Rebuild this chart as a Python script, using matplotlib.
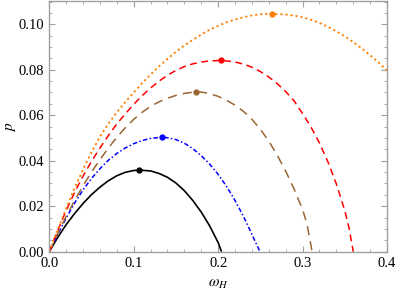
import matplotlib
matplotlib.use("Agg")
import matplotlib.pyplot as plt
from matplotlib.ticker import MultipleLocator

plt.rcParams["font.family"] = "Liberation Serif"
plt.rcParams["mathtext.fontset"] = "stix"

# values (omega_H, p)
black_w = [0, 0.01, 0.02, 0.03, 0.04, 0.05, 0.06, 0.07, 0.08, 0.09, 0.10, 0.1065,
           0.12, 0.13, 0.14, 0.15, 0.16, 0.17, 0.18, 0.19, 0.20, 0.204]
black_p = [0, 0.0063, 0.0119, 0.0168, 0.0212, 0.0251, 0.0284, 0.0312, 0.0334, 0.0349, 0.0357, 0.0359,
           0.0355, 0.0344, 0.0327, 0.0302, 0.0268, 0.0225, 0.0174, 0.0113, 0.0040, 0.0]

blue_w = [0, 0.01, 0.02, 0.03, 0.04, 0.05, 0.06, 0.07, 0.08, 0.09, 0.10, 0.11, 0.12, 0.133,
          0.14, 0.15, 0.16, 0.17, 0.18, 0.19, 0.20, 0.21, 0.22, 0.23, 0.24, 0.2495]
blue_p = [0, 0.0076, 0.0148, 0.0214, 0.0272, 0.0322, 0.0365, 0.0402, 0.0432, 0.0456, 0.0475, 0.0489, 0.0498, 0.0503,
          0.0501, 0.0493, 0.0477, 0.0453, 0.0422, 0.0385, 0.0340, 0.0287, 0.0225, 0.0155, 0.0076, 0.0]

brown_w = [0, 0.01, 0.02, 0.03, 0.04, 0.05, 0.06, 0.07, 0.08, 0.09, 0.10, 0.11, 0.12, 0.13, 0.14, 0.15, 0.16, 0.1732,
           0.18, 0.19, 0.20, 0.21, 0.22, 0.23, 0.24, 0.25, 0.26, 0.27, 0.28, 0.29, 0.30, 0.305, 0.3113]
brown_p = [0, 0.0080, 0.0155, 0.0225, 0.0290, 0.0350, 0.0405, 0.0456, 0.0503, 0.0545, 0.0582, 0.0613, 0.0639, 0.0659,
           0.0675, 0.0687, 0.0696, 0.0703,
           0.0702, 0.0695, 0.0683, 0.0666, 0.0644, 0.0617, 0.0582, 0.0538, 0.0486, 0.0424, 0.0354, 0.0275, 0.0185,
           0.0125, 0.0]

red_w = [0, 0.01, 0.02, 0.03, 0.04, 0.05, 0.06, 0.07, 0.08, 0.09, 0.10, 0.11, 0.12, 0.13, 0.14, 0.15, 0.16, 0.17,
         0.18, 0.19, 0.2028, 0.21, 0.22, 0.23, 0.24, 0.25, 0.26, 0.27, 0.28, 0.29, 0.30, 0.31, 0.32, 0.33, 0.34,
         0.35, 0.355, 0.36]
red_p = [0, 0.0093, 0.0181, 0.0261, 0.0333, 0.0397, 0.0456, 0.0511, 0.0562, 0.0606, 0.0648, 0.0686, 0.0720, 0.0750,
         0.0776, 0.0797, 0.0814, 0.0826, 0.0834, 0.0839, 0.0841, 0.0839, 0.0834, 0.0825, 0.0811, 0.0792, 0.0768,
         0.0739, 0.0704, 0.0663, 0.0607, 0.0548, 0.0478, 0.0395, 0.0298, 0.0180, 0.0105, 0.0]

orange_w = [0, 0.01, 0.02, 0.03, 0.04, 0.05, 0.06, 0.07, 0.08, 0.09, 0.10, 0.11, 0.12, 0.13, 0.14, 0.15, 0.16,
            0.17, 0.18, 0.19, 0.20, 0.21, 0.22, 0.23, 0.24, 0.25, 0.264, 0.28, 0.29, 0.30, 0.31, 0.32, 0.33,
            0.34, 0.35, 0.36, 0.37, 0.38, 0.39, 0.40]
orange_p = [0, 0.0097, 0.0191, 0.0279, 0.0362, 0.0437, 0.0506, 0.0563, 0.0613, 0.0658, 0.0700, 0.0741, 0.0779,
            0.0815, 0.0848, 0.0879, 0.0907, 0.0932, 0.0955, 0.0976, 0.0993, 0.1009, 0.1021, 0.1031, 0.1039,
            0.1044, 0.1046, 0.1043, 0.1038, 0.1031, 0.1020, 0.1006, 0.0989, 0.0969, 0.0947, 0.0922, 0.0894,
            0.0864, 0.0832, 0.0797]

peaks_w = [0.1065, 0.133, 0.1732, 0.2028, 0.264]
peaks_p = [0.0359, 0.0503, 0.0703, 0.0841, 0.1046]

brown = (0.6, 0.4, 0.2)
orange = (1.0, 0.5, 0.0)

fig = plt.figure(figsize=(3.95, 2.98), dpi=100)
ax = fig.add_axes([0.1248, 0.1554, 0.855, 0.841])

ax.plot(black_w, black_p, color="black", lw=1.2, solid_capstyle="butt")
ax.plot(blue_w, blue_p, color="blue", lw=1.1, linestyle=(0, (3, 1.5, 1, 1.5)))
ax.plot(brown_w, brown_p, color=brown, lw=1.1, linestyle=(0, (6, 4)))
ax.plot(red_w, red_p, color="red", lw=1.1, linestyle=(0, (4.5, 3)))
ax.plot(orange_w, orange_p, color=orange, lw=1.3, linestyle=(0, (1.2, 1.6)))

for w, p, c in zip(peaks_w, peaks_p, ["black", "blue", brown, "red", orange]):
    ax.plot(w, p, "o", color=c, ms=3.5)

ax.set_xlim(0, 0.4)
ax.set_ylim(0, 0.1102)
ax.xaxis.set_major_locator(MultipleLocator(0.1))
ax.xaxis.set_minor_locator(MultipleLocator(0.02))
ax.yaxis.set_major_locator(MultipleLocator(0.02))
ax.yaxis.set_minor_locator(MultipleLocator(0.005))
ax.xaxis.set_major_formatter(lambda v, pos: f"{v:.1f}")
ax.yaxis.set_major_formatter(lambda v, pos: f"{v:.2f}")

frame = "#a0a0a0"
for s in ax.spines.values():
    s.set_color(frame)
    s.set_linewidth(1.0)
ax.tick_params(which="both", direction="in", top=True, right=True, color=frame,
               labelsize=10.5, pad=4)
ax.tick_params(which="major", length=4, width=0.8)
ax.tick_params(which="minor", length=2.2, width=0.6)

ax.set_xlabel(r"$\omega_H$", fontsize=11)
ax.set_ylabel(r"$p$", fontsize=11, va="center")
ax.xaxis.set_label_coords(0.5, -0.105)
ax.yaxis.set_label_coords(-0.114, 0.5)

fig.savefig("out.png", dpi=100)
